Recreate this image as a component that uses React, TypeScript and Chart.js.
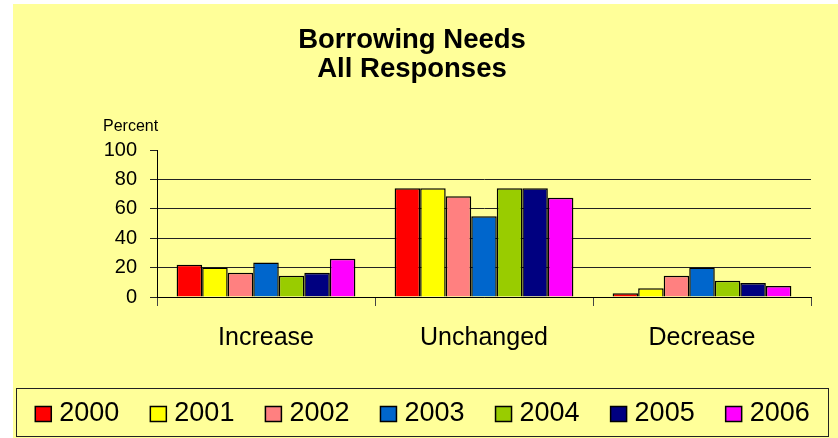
import React, { useEffect, useRef } from "react";
import { Chart, registerables } from "chart.js";

Chart.register(...registerables);

const categories = ["Increase", "Unchanged", "Decrease"];
const years = ["2000", "2001", "2002", "2003", "2004", "2005", "2006"];
const colors = ["#FF0000", "#FFFF00", "#FF8080", "#0066CC", "#99CC00", "#000080", "#FF00FF"];
const increase = [22, 20, 16.5, 23.5, 14.5, 16.5, 26];
const unchanged = [74, 74, 68.5, 55, 74, 74, 67.5];
const decrease = [2.5, 6, 14.5, 20, 11, 9.5, 7.5];
const titleLines = ["Borrowing Needs", "All Responses"];
const yAxisLabel = "Percent";

const FONT = "'Liberation Sans', Arial, Helvetica, sans-serif";

export default function App() {
  const ref = useRef<HTMLCanvasElement | null>(null);

  useEffect(() => {
    if (!ref.current) return;
    Chart.defaults.font.family = FONT;
    Chart.defaults.color = "#000";

    const datasets = years.map((y, i) => ({
      label: y,
      data: [increase[i], unchanged[i], decrease[i]],
      backgroundColor: colors[i],
      borderColor: "#000",
      borderWidth: 1.5,
      categoryPercentage: 0.82,
      barPercentage: 1.0,
    }));

    const decor = {
      id: "decor",
      afterDraw(chart: any) {
        const ctx = chart.ctx;
        const ca = chart.chartArea;
        const W = chart.width;
        const H = chart.height;
        ctx.save();
        // y-axis caption
        ctx.fillStyle = "#000";
        ctx.font = `16px ${FONT}`;
        ctx.textAlign = "left";
        ctx.textBaseline = "alphabetic";
        ctx.fillText(yAxisLabel, ca.left - 54, ca.top - 19);

        // legend box
        const boxLeft = 3.5;
        const boxRight = W - 9.5;
        const boxTop = H - 49.5;
        const boxBottom = H - 1.5;
        ctx.strokeStyle = "#222";
        ctx.lineWidth = 1;
        ctx.strokeRect(boxLeft, boxTop, boxRight - boxLeft, boxBottom - boxTop);

        // legend items
        ctx.font = `27px ${FONT}`;
        const sw = 16;
        const sh = 15;
        const gap = 8;
        const itemGap = 31;
        const items = chart.data.datasets.map((d: any) => ({
          label: d.label,
          color: d.backgroundColor,
          tw: ctx.measureText(d.label).width,
        }));
        const total =
          items.reduce((s: number, it: any) => s + sw + gap + it.tw, 0) + itemGap * (items.length - 1);
        let x = (boxLeft + boxRight) / 2 - total / 2;
        const cy = boxTop + 25.5;
        ctx.textBaseline = "middle";
        items.forEach((it: any) => {
          ctx.fillStyle = it.color;
          ctx.fillRect(x, cy - sh / 2, sw, sh);
          ctx.strokeStyle = "#000";
          ctx.lineWidth = 1.5;
          ctx.strokeRect(x, cy - sh / 2, sw, sh);
          ctx.fillStyle = "#000";
          ctx.fillText(it.label, x + sw + gap, cy);
          x += sw + gap + it.tw + itemGap;
        });
        ctx.restore();
      },
    };

    const chart = new Chart(ref.current, {
      type: "bar",
      data: { labels: categories, datasets },
      plugins: [decor],
      options: {
        animation: false,
        responsive: true,
        maintainAspectRatio: false,
        layout: { padding: { left: 0, right: 27, top: 0, bottom: 64 } },
        plugins: {
          tooltip: { enabled: false },
          legend: { display: false },
          title: {
            display: true,
            text: titleLines,
            color: "#000",
            font: { size: 27.5, weight: "bold", lineHeight: 1.055, family: FONT },
            padding: { top: 22, bottom: 66 },
          },
        },
        scales: {
          x: {
            offset: true,
            grid: {
              offset: true,
              drawOnChartArea: false,
              drawTicks: true,
              tickLength: 9,
              tickColor: "#444",
            },
            border: { color: "#000", width: 1 },
            ticks: { font: { size: 25, family: FONT }, color: "#000", padding: 17 },
            afterFit(scale: any) {
              scale.height = 77;
            },
          },
          y: {
            min: 0,
            max: 100,
            ticks: {
              stepSize: 20,
              autoSkip: false,
              font: { size: 20, family: FONT },
              color: "#000",
              padding: 13,
            },
            grid: {
              color: (c: any) => (c.tick && c.tick.value === 100 ? "rgba(0,0,0,0)" : "#222"),
              tickColor: "#222",
              tickLength: 7,
              lineWidth: 1,
            },
            border: { color: "#000", width: 1 },
            afterFit(scale: any) {
              scale.width = 144;
            },
          },
        },
      },
    });
    return () => chart.destroy();
  }, []);

  return (
    <div
      style={{
        position: "absolute",
        left: 13,
        top: 4,
        width: 825,
        height: 434,
        background: "#FFFF99",
      }}
    >
      <canvas ref={ref} />
    </div>
  );
}
